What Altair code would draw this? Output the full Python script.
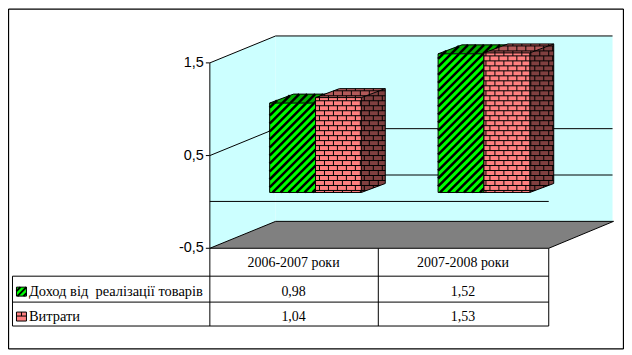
import altair as alt
import pandas as pd

categories = ["2006-2007 роки", "2007-2008 роки"]
series_names = ["Доход від \u00a0реалізації товарів", "Витрати"]
income = [0.98, 1.52]
costs = [1.04, 1.53]
axis_ticks = [-0.5, 0.5, 1.5]
back_grid = [0.0, 0.5]

PLOT_L, PLOT_T, W, H = 8, 8, 618, 342
UNIT = 93.0
BAR_UNIT = 91.5
Y_BOTTOM = 248            # pixel row of -0.5 on the front plane
X_AXIS = 209
X_END = 549
DX, DY = 66, 27           # wall depth
BAR_W, BAR_DX, BAR_DY = 46, 24, 9
BAR_BASE = 192
GROUP_LEFT = [269, 438]
TABLE_L = 11
COLS = [209, 378, 549]
ROWS = [248, 276, 302, 326]

CYAN, GREY = "#CCFFFF", "#808080"
GREEN, GREEN_DK = "#00FF00", "#00B000"
PINK, PINK_TOP, PINK_SIDE = "#FF8080", "#B35A5A", "#804040"
INK = "#000000"


def v(py):
    return -0.5 + (Y_BOTTOM - py) / UNIT


xs = alt.Scale(domain=[PLOT_L, PLOT_L + W], range=[0, W], nice=False, zero=False)
ys = alt.Scale(domain=[v(PLOT_T + H), v(PLOT_T)], range=[H, 0], nice=False, zero=False)
yaxis = alt.Axis(
    values=axis_ticks, offset=-(X_AXIS + 1 - PLOT_L), domain=False, grid=False, title=None,
    tickSize=4, tickColor=INK, labelColor=INK, labelFont="Liberation Sans", labelFontSize=14.5,
    labelPadding=2, format=".1f",
    labelExpr="replace(replace(datum.label, '.', ','), '\u2212', '-')",
)
layers = []
SHIFT = 1.5   # half-pixel alignment plus the one-pixel offset of the page


def rules(segs, color=INK, width=1.0):
    df = pd.DataFrame(
        [{"x": a + SHIFT, "x2": c + SHIFT, "y": v(b + .5), "y2": v(d + .5)} for a, b, c, d in segs]
    )
    layers.append(
        alt.Chart(df).mark_rule(color=color, strokeWidth=width).encode(
            x=alt.X("x:Q", scale=xs, axis=None), x2="x2:Q",
            y=alt.Y("y:Q", scale=ys, axis=yaxis), y2="y2:Q",
        )
    )


def area_v(xv, top, bot, color):
    df = pd.DataFrame({"x": [p + SHIFT for p in xv], "y": [v(p + .5) for p in top], "y2": [v(p + .5) for p in bot]})
    layers.append(
        alt.Chart(df).mark_area(color=color, opacity=1, interpolate="linear").encode(
            x=alt.X("x:Q", scale=xs, axis=None),
            y=alt.Y("y:Q", scale=ys, axis=yaxis, stack=None), y2="y2:Q",
        )
    )


def area_h(yv, left, right, color):
    df = pd.DataFrame({"y": [v(p + .5) for p in yv], "x": [p + SHIFT for p in left], "x2": [p + SHIFT for p in right]})
    layers.append(
        alt.Chart(df).mark_area(color=color, opacity=1, orient="horizontal", interpolate="linear").encode(
            y=alt.Y("y:Q", scale=ys, axis=yaxis),
            x=alt.X("x:Q", scale=xs, axis=None, stack=None), x2="x2:Q",
        )
    )


def clip(seg, poly):
    x1, y1, x2, y2 = seg
    t0, t1 = 0.0, 1.0
    n = len(poly)
    area = sum(poly[i][0] * poly[(i + 1) % n][1] - poly[(i + 1) % n][0] * poly[i][1] for i in range(n))
    sign = 1 if area > 0 else -1
    for i in range(n):
        ax, ay = poly[i]
        bx, by = poly[(i + 1) % n]
        ex, ey = bx - ax, by - ay
        f0 = sign * (ex * (y1 - ay) - ey * (x1 - ax))
        f1 = sign * (ex * (y2 - ay) - ey * (x2 - ax))
        if f0 < 0 and f1 < 0:
            return None
        if f0 < 0:
            t0 = max(t0, f0 / (f0 - f1))
        elif f1 < 0:
            t1 = min(t1, f0 / (f0 - f1))
    if t1 <= t0:
        return None
    return (x1 + t0 * (x2 - x1), y1 + t0 * (y2 - y1), x1 + t1 * (x2 - x1), y1 + t1 * (y2 - y1))


def hatch(poly, period=8):
    xa = [p[0] for p in poly]
    ya = [p[1] for p in poly]
    lo = (min(xa) + min(ya)) // period
    hi = (max(xa) + max(ya)) // period + 1
    out = []
    for k in range(int(lo), int(hi) + 1):
        c = k * period
        s = clip((min(xa) - 2, c - min(xa) + 2, max(xa) + 2, c - max(xa) - 2), poly)
        if s:
            out.append(s)
    return out


def bricks(poly, rh=5, bw=9):
    xa = [p[0] for p in poly]
    ya = [p[1] for p in poly]
    out = []
    for r in range(int(min(ya)) // rh, int(max(ya)) // rh + 1):
        s = clip((min(xa) - 1, r * rh, max(xa) + 1, r * rh), poly)
        if s:
            out.append(s)
        for c in range(int(min(xa)) // bw - 1, int(max(xa)) // bw + 2):
            xx = c * bw + (r % 2) * bw // 2
            s = clip((xx, r * rh, xx, (r + 1) * rh), poly)
            if s:
                out.append(s)
    return out


# outer frame
fr_l, fr_r, fr_b = PLOT_L - 1, 624, 349
rules([(fr_l, PLOT_T, fr_r, PLOT_T), (fr_r, PLOT_T, fr_r, fr_b), (fr_r, fr_b, fr_l, fr_b), (fr_l, fr_b, fr_l, PLOT_T)], width=1.3)

# walls
Y_TOP = Y_BOTTOM - 2 * UNIT
BACK_R = 613
area_v([X_AXIS, X_AXIS + DX], [Y_TOP, Y_TOP - DY], [Y_BOTTOM, Y_BOTTOM - DY], CYAN)
area_v([X_AXIS + DX, BACK_R], [Y_TOP - DY] * 2, [Y_BOTTOM - DY] * 2, CYAN)

# gridlines
grid = [(X_AXIS + DX, Y_BOTTOM - DY - (g + 0.5) * UNIT, BACK_R, Y_BOTTOM - DY - (g + 0.5) * UNIT) for g in back_grid]
y_mid = Y_BOTTOM - UNIT
grid.append((X_AXIS, y_mid, X_AXIS + DX, y_mid - DY))
grid.append((X_AXIS, Y_TOP, X_AXIS + DX, Y_TOP - DY))
grid.append((X_AXIS + DX, Y_TOP - DY, BACK_R, Y_TOP - DY))
rules(grid)

# floor
area_h([Y_BOTTOM, Y_BOTTOM - DY], [X_AXIS, X_AXIS + DX], [X_END, BACK_R + 1], GREY)
rules([
    (X_AXIS, Y_BOTTOM, X_AXIS + DX, Y_BOTTOM - DY),
    (X_AXIS + DX, Y_BOTTOM - DY, BACK_R + 1, Y_BOTTOM - DY),
    (BACK_R + 1, Y_BOTTOM - DY, X_END, Y_BOTTOM),
    (X_AXIS, Y_BOTTOM, X_END, Y_BOTTOM),
    (X_AXIS, 201, X_END, 201),
    (X_AXIS, Y_TOP, X_AXIS, Y_BOTTOM),
])


def bar(left, value, front, top_c, side_c, pattern, pat_w):
    right = left + BAR_W
    t = BAR_BASE - value * BAR_UNIT
    top_poly = [(left, t), (right, t), (right + BAR_DX, t - BAR_DY), (left + BAR_DX, t - BAR_DY)]
    side_poly = [(right, t), (right + BAR_DX, t - BAR_DY), (right + BAR_DX, BAR_BASE - BAR_DY), (right, BAR_BASE)]
    front_poly = [(left, t), (right, t), (right, BAR_BASE), (left, BAR_BASE)]
    area_v([left, right], [t, t], [BAR_BASE, BAR_BASE], front)
    area_h([t, t - BAR_DY], [left, left + BAR_DX], [right, right + BAR_DX], top_c)
    area_v([right, right + BAR_DX], [t, t - BAR_DY], [BAR_BASE, BAR_BASE - BAR_DY], side_c)
    rules(pattern(front_poly) + pattern(top_poly) + pattern(side_poly), width=pat_w)
    rules([
        (left, t, right, t), (right, t, right, BAR_BASE), (right, BAR_BASE, left, BAR_BASE), (left, BAR_BASE, left, t),
        (left, t, left + BAR_DX, t - BAR_DY), (left + BAR_DX, t - BAR_DY, right + BAR_DX, t - BAR_DY),
        (right, t, right + BAR_DX, t - BAR_DY), (right + BAR_DX, t - BAR_DY, right + BAR_DX, BAR_BASE - BAR_DY),
        (right + BAR_DX, BAR_BASE - BAR_DY, right, BAR_BASE),
    ])


for i, left in enumerate(GROUP_LEFT):
    bar(left, income[i], GREEN, GREEN_DK, GREEN_DK, hatch, 2.5)
    bar(left + BAR_W, costs[i], PINK, PINK_TOP, PINK_SIDE, bricks, 1.0)

# data table lines
tbl = [(c, ROWS[0], c, ROWS[3]) for c in COLS]
tbl.append((TABLE_L, ROWS[1], COLS[2], ROWS[1]))
tbl.append((TABLE_L, ROWS[2], COLS[2], ROWS[2]))
tbl.append((TABLE_L, ROWS[3], COLS[2], ROWS[3]))
tbl.append((TABLE_L, ROWS[1], TABLE_L, ROWS[3]))
rules(tbl)

# legend keys
k1 = [(15, 287), (25, 287), (25, 296), (15, 296)]
area_v([15, 25], [287, 287], [296, 296], GREEN)
rules(hatch(k1, 6), width=2.0)
area_v([15, 25], [312, 312], [321, 321], PINK)
rules([(15, 316, 25, 316), (20, 312, 20, 316), (15, 312, 25, 312), (15, 321, 25, 321), (15, 312, 15, 321), (25, 312, 25, 321),
       (15, 287, 25, 287), (15, 296, 25, 296), (15, 287, 15, 296), (25, 287, 25, 296)])


# texts
def texts(rows, align, size):
    df = pd.DataFrame(rows)
    layers.append(
        alt.Chart(df).mark_text(font="Liberation Serif", fontSize=size, color=INK, align=align, baseline="middle").encode(
            x=alt.X("x:Q", scale=xs, axis=None), y=alt.Y("y:Q", scale=ys, axis=yaxis), text="t:N",
        )
    )


centers = [(COLS[0] + COLS[1]) / 2 + 1, (COLS[1] + COLS[2]) / 2 + 1]
row_mid = [263, 292.5, 317.5]
cells = []
for i, cx in enumerate(centers):
    cells.append({"x": cx, "y": v(row_mid[0]), "t": categories[i]})
    cells.append({"x": cx, "y": v(row_mid[1]), "t": f"{income[i]:.2f}".replace(".", ",")})
    cells.append({"x": cx, "y": v(row_mid[2]), "t": f"{costs[i]:.2f}".replace(".", ",")})
texts(cells, "center", 14)
texts([{"x": 29, "y": v(row_mid[1]), "t": series_names[0]}, {"x": 29, "y": v(row_mid[2]), "t": series_names[1]}], "left", 14.5)

chart = alt.layer(*layers).properties(
    width=W, height=H, padding=0, autosize="none", background="white"
).configure_view(stroke=None)

chart.save("out.html", embed_options={"renderer": "svg", "actions": False})
